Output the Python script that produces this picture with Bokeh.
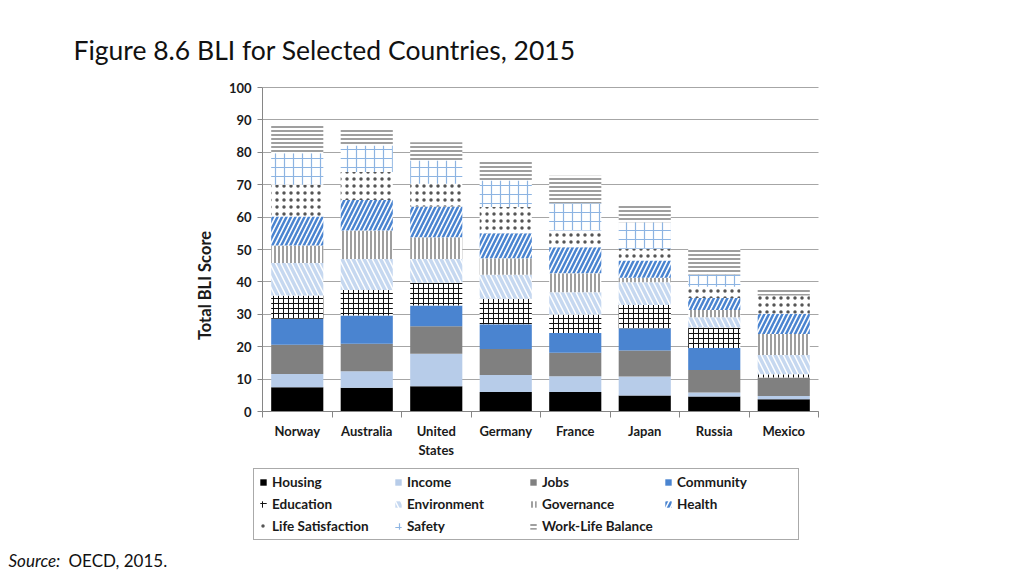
from math import pi
from bokeh.plotting import figure
from bokeh.models import (ColumnDataSource, Legend, LegendItem, Label,
                          FixedTicker, Range1d)
from bokeh.embed import file_html
from bokeh.resources import INLINE

# ---------------- data ----------------
countries = ["Norway", "Australia", "United States", "Germany", "France",
             "Japan", "Russia", "Mexico"]
tick_labels = ["Norway", "Australia", "United\nStates", "Germany", "France",
               "Japan", "Russia", "Mexico"]
series = ["Housing", "Income", "Jobs", "Community", "Education", "Environment",
          "Governance", "Health", "Life Satisfaction", "Safety",
          "Work-Life Balance"]

housing = [7.5, 7.3, 7.8, 6.0, 6.0, 4.9, 4.6, 3.8]
income = [4.1, 5.1, 10.0, 5.3, 4.9, 5.9, 1.3, 1.0]
jobs = [9.0, 8.5, 8.5, 8.0, 7.2, 8.0, 6.9, 5.7]
community = [8.0, 8.7, 6.4, 7.6, 6.1, 6.9, 6.8, 0.0]
education = [7.2, 7.9, 7.0, 7.9, 5.7, 7.2, 6.3, 1.0]
environment = [10.0, 9.6, 7.4, 7.4, 6.9, 7.0, 3.2, 5.9]
governance = [5.4, 8.8, 6.7, 5.1, 5.9, 1.4, 2.2, 6.5]
health = [9.0, 9.4, 9.5, 7.7, 8.0, 5.3, 3.7, 6.3]
life_satisfaction = [9.8, 8.6, 7.0, 8.1, 5.2, 3.6, 3.5, 5.6]
safety = [9.7, 8.2, 7.2, 8.2, 8.4, 8.2, 3.8, 0.0]
work_life_balance = [8.9, 4.9, 5.6, 6.2, 8.5, 5.4, 7.9, 1.8]

y_ticks = [0, 10, 20, 30, 40, 50, 60, 70, 80, 90, 100]

# ---------------- styles ----------------
fill_colors = ["#000000", "#b7cce9", "#808080", "#4a84d0", "white", "white",
               "white", "white", "white", "white", "white"]
hatch_patterns = [" ", " ", " ", " ", "+", "\\", "|", "/", ".", "+", "-"]
hatch_colors = ["black", "black", "black", "black", "#111111", "#c6d8f0",
                "#7f7f7f", "#4a84d0", "#555555", "#8db4e2", "#7f7f7f"]
hatch_scales = [8, 8, 8, 8, 5, 11, 4, 9, 7, 9, 4]
hatch_weights = [1, 1, 1, 1, 1, 3.5, 1.5, 2.5, 0.7, 1.2, 1.5]

x = list(range(1, len(countries) + 1))
data = dict(x=x, country=countries)
for name, vals in zip(series, [housing, income, jobs, community, education,
                               environment, governance, health,
                               life_satisfaction, safety, work_life_balance]):
    data[name] = vals
source = ColumnDataSource(data)

FONT = "Lato"
W, H = 1008, 576
# plot area of the reference, in canvas pixels
AX_L, AX_R, AX_T, AX_B = 262, 818, 87, 411
x_lo, x_hi = 0.5, len(countries) + 0.5
y_lo, y_hi = 0, 100
ppx = (AX_R - AX_L) / (x_hi - x_lo)
ppy = (AX_B - AX_T) / (y_hi - y_lo)

p = figure(width=W, height=H,
           x_range=Range1d(x_lo - AX_L / ppx, x_hi + (W - AX_R) / ppx),
           y_range=Range1d(y_lo - (H - AX_B) / ppy, y_hi + AX_T / ppy),
           output_backend="svg", toolbar_location=None,
           min_border_left=0, min_border_right=0, min_border_top=0,
           min_border_bottom=0)
p.outline_line_color = None
p.background_fill_color = "white"
p.border_fill_color = "white"

# grid (restricted to the plot area)
p.xgrid.visible = False
try:
    p.ygrid.cross_bounds = (x_lo, x_hi)
    p.ygrid.ticker = FixedTicker(ticks=y_ticks)
    p.ygrid.grid_line_color = "#a6a6a6"
except Exception:
    p.ygrid.visible = False
    p.segment(x0=[x_lo] * len(y_ticks), x1=[x_hi] * len(y_ticks),
              y0=y_ticks, y1=y_ticks, line_color="#a6a6a6", line_width=1)

renderers = p.vbar_stack(series, x="x", width=0.75, source=source,
                         fill_color=fill_colors, line_color=None,
                         hatch_pattern=hatch_patterns, hatch_color=hatch_colors,
                         hatch_scale=hatch_scales, hatch_weight=hatch_weights)

# axes (drawn at the data edges, inside the frame)
ya = p.yaxis[0]
ya.fixed_location = x_lo
ya.bounds = (y_lo, y_hi)
ya.ticker = FixedTicker(ticks=y_ticks)
ya.axis_line_color = "#868686"
ya.major_tick_line_color = "#868686"
ya.major_tick_out = 5
ya.major_tick_in = 0
ya.minor_tick_line_color = None
ya.major_label_standoff = 6
ya.major_label_text_font = FONT
ya.major_label_text_font_style = "bold"
ya.major_label_text_font_size = "13px"
ya.major_label_text_color = "#1a1a1a"

xa = p.xaxis[0]
xa.fixed_location = y_lo
xa.bounds = (x_lo, x_hi)
xa.ticker = FixedTicker(ticks=x, minor_ticks=[i + 0.5 for i in range(0, len(countries) + 1)])
xa.major_label_overrides = {xi: lab for xi, lab in zip(x, tick_labels)}
xa.axis_line_color = "#868686"
xa.major_tick_line_color = None
xa.major_tick_out = 0
xa.major_tick_in = 0
xa.minor_tick_line_color = "#868686"
xa.minor_tick_out = 6
xa.minor_tick_in = 0
xa.major_label_standoff = 5
xa.major_label_text_font = FONT
xa.major_label_text_font_style = "bold"
xa.major_label_text_font_size = "13px"
xa.major_label_text_color = "#1a1a1a"

# y axis title (placed like the reference, slightly below centre)
p.add_layout(Label(x=204, y=H - 285, x_units="screen", y_units="screen",
                   text="Total BLI Score", angle=pi / 2, text_align="center",
                   text_baseline="middle", text_font=FONT,
                   text_font_style="bold", text_font_size="16.5px",
                   text_color="#1a1a1a"))

# legend
items = [LegendItem(label=name, renderers=[r]) for name, r in zip(series, renderers)]
legend = Legend(items=items, location=(253, H - 540), orientation="horizontal",
                ncols=4, border_line_color="#555555", border_line_width=1.5,
                background_fill_color="white", background_fill_alpha=1,
                padding=5, spacing=6, margin=0, glyph_width=8,
                glyph_height=8, label_height=14, label_standoff=5,
                label_width=116, label_text_font=FONT,
                label_text_font_style="bold", label_text_font_size="13.5px",
                label_text_color="#1a1a1a")
p.add_layout(legend)

# title and source
p.add_layout(Label(x=73, y=H - 65, x_units="screen", y_units="screen",
                   text="Figure 8.6 BLI for Selected Countries, 2015",
                   text_font=FONT, text_font_size="26.5px", text_color="#111111"))
p.add_layout(Label(x=8, y=H - 570, x_units="screen", y_units="screen",
                   text="Source:", text_font=FONT, text_font_style="italic",
                   text_font_size="17px", text_color="#111111"))
p.add_layout(Label(x=68, y=H - 570, x_units="screen", y_units="screen",
                   text="OECD, 2015.", text_font=FONT,
                   text_font_size="17px", text_color="#111111"))

open("out.html", "w").write(file_html(p, INLINE))
